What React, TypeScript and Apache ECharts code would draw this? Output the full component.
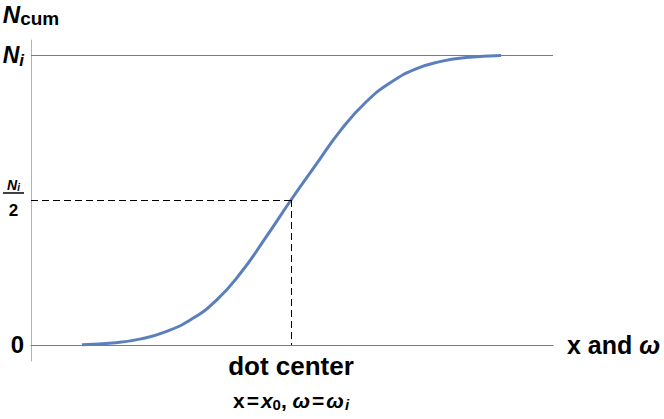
import React, { useEffect, useRef } from "react";
import * as echarts from "echarts";

// Cumulative count curve (x in units of width, centred on the dot centre)
const curveX = [-4.18, -3.5, -3.0, -2.5, -2.0, -1.5, -1.0, -0.5, 0, 0.5, 1.0, 1.5, 2.0, 2.5, 3.0, 3.5, 4.2];
const curveY = [0.001, 0.008, 0.021, 0.046, 0.088, 0.153, 0.25, 0.372, 0.5, 0.622, 0.742, 0.838, 0.906, 0.952, 0.978, 0.991, 0.998];
const yTicks = [0, 0.5, 1];
const xTicks = [0];
const centerX = 0;
const halfY = 0.5;
const topY = 1;

const FONT = "Liberation Sans";

export default function App() {
  const ref = useRef<HTMLDivElement>(null);
  useEffect(() => {
    if (!ref.current) return;
    const chart = echarts.init(ref.current, undefined, { renderer: "svg" });
    const xMin = -5.2;
    const xMax = 5.24;
    chart.setOption({
      animation: false,
      backgroundColor: "#fff",
      textStyle: { fontFamily: FONT },
      grid: { left: 31, right: 111, top: 40, bottom: 58, outerBoundsMode: "none", containLabel: false },
      xAxis: {
        type: "value",
        min: xMin,
        max: xMax,
        axisLine: { show: true, onZero: true, lineStyle: { color: "#7a7a7a", width: 1 } },
        axisTick: { show: false },
        splitLine: { show: false },
        name: "{a|x and }{w|ω}",
        nameLocation: "end",
        nameGap: 14,
        nameTextStyle: {
          rich: {
            a: { fontFamily: FONT, fontSize: 25, fontWeight: "bold", color: "#000" },
            w: { fontFamily: FONT, fontSize: 25, fontWeight: "bold", fontStyle: "italic", color: "#000" },
          },
        },
        axisLabel: {
          customValues: xTicks,
          margin: -10,
          formatter: () =>
            "{d|dot center}\n{x|x}{e|=}{xi|x}{s|0}{x|, }{xi|ω}{e|=}{xi|ω}{si|i}",
          rich: {
            d: { fontFamily: FONT, fontSize: 26, fontWeight: "bold", color: "#000", lineHeight: 30 },
            x: { fontFamily: FONT, fontSize: 21, fontWeight: "bold", color: "#000", lineHeight: 38 },
            e: { fontFamily: FONT, fontSize: 21, fontWeight: "bold", color: "#000", lineHeight: 38, padding: [0, 2, 0, 2] },
            xi: { fontFamily: FONT, fontSize: 21, fontWeight: "bold", fontStyle: "italic", color: "#000", lineHeight: 38 },
            s: { fontFamily: FONT, fontSize: 15, fontWeight: "bold", color: "#000", padding: [9, 0, 0, 0] },
            si: { fontFamily: FONT, fontSize: 15, fontWeight: "bold", fontStyle: "italic", color: "#000", padding: [9, 0, 0, 1] },
          },
        },
      },
      yAxis: {
        type: "value",
        min: -0.0552,
        max: 1.0517,
        axisLine: { show: true, onZero: false, lineStyle: { color: "#b4b4b4", width: 1 } },
        axisTick: { show: false },
        splitLine: { show: false },
        name: "{N|N}{c|cum}",
        nameLocation: "end",
        nameGap: 12,
        nameTextStyle: {
          rich: {
            N: { fontFamily: FONT, fontSize: 24, fontWeight: "bold", fontStyle: "italic", color: "#000" },
            c: { fontFamily: FONT, fontSize: 19, fontWeight: "bold", color: "#000", padding: [8, 0, 0, 0] },
          },
        },
        axisLabel: {
          customValues: yTicks,
          margin: 7,
          formatter: (v: number) => {
            if (v === 0) return "{z|0}";
            if (v === 1) return "{N|N}{i|i}";
            return "{fn|N}{fi|i}\n{bar| }\n{fd|2}";
          },
          rich: {
            z: { fontFamily: FONT, fontSize: 24, fontWeight: "bold", color: "#000" },
            N: { fontFamily: FONT, fontSize: 23, fontWeight: "bold", fontStyle: "italic", color: "#000" },
            i: { fontFamily: FONT, fontSize: 17, fontWeight: "bold", fontStyle: "italic", color: "#000", padding: [12, 0, 0, 0] },
            fn: { fontFamily: FONT, fontSize: 14, fontWeight: "bold", fontStyle: "italic", color: "#000", lineHeight: 14, align: "center" },
            fi: { fontFamily: FONT, fontSize: 10, fontWeight: "bold", fontStyle: "italic", color: "#000", lineHeight: 14, padding: [6, 0, 0, 0], align: "center" },
            bar: { width: 21, height: 1.5, lineHeight: 2, backgroundColor: "#000", fontSize: 1, align: "center" },
            fd: { fontFamily: FONT, fontSize: 17, fontWeight: "bold", color: "#000", lineHeight: 28, padding: [6, 0, 0, 0], align: "center" },
          },
        },
      },
      series: [
        {
          type: "line",
          data: curveX.map((x, i) => [x, curveY[i]]),
          smooth: 0.5,
          showSymbol: false,
          lineStyle: { color: "#5b7fbc", width: 3 },
          markLine: {
            silent: true,
            symbol: ["none", "none"],
            label: { show: false },
            data: [
              { yAxis: topY, lineStyle: { color: "#7a7a7a", width: 1, type: "solid" } },
              [
                { coord: [xMin, halfY], lineStyle: { color: "#000", width: 1, type: [7, 4] } },
                { coord: [centerX, halfY] },
              ],
              [
                { coord: [centerX, halfY], lineStyle: { color: "#000", width: 1, type: [7, 4] } },
                { coord: [centerX, 0] },
              ],
            ],
          },
        },
      ],
    });
    return () => chart.dispose();
  }, []);
  return <div ref={ref} style={{ position: "fixed", left: 0, top: 0, width: 664, height: 419 }} />;
}
